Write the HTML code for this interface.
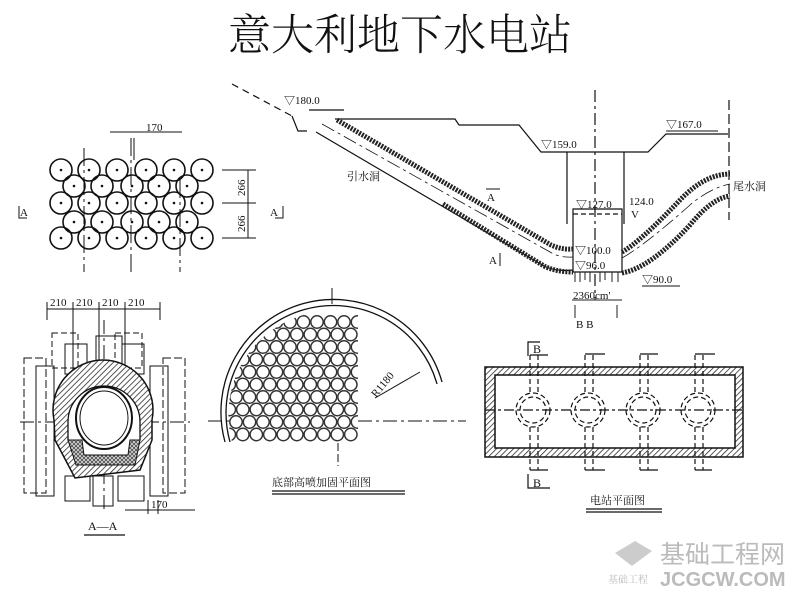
<!DOCTYPE html>
<html><head><meta charset="utf-8"><style>
html,body{margin:0;padding:0;background:#fff}
svg{display:block}
text{font-family:"Liberation Serif","Noto Serif CJK SC",serif;fill:#111}
.c{font-family:"Liberation Serif","Noto Serif CJK SC",serif}
</style></head><body>
<svg width="800" height="600" viewBox="0 0 800 600" xmlns="http://www.w3.org/2000/svg">
<defs>
<pattern id="hatch" width="4" height="4" patternUnits="userSpaceOnUse" patternTransform="rotate(45)">
<rect width="4" height="4" fill="#fff"/><line x1="0" y1="0" x2="0" y2="4" stroke="#222" stroke-width="1.5"/></pattern>
<pattern id="xhatch" width="4" height="4" patternUnits="userSpaceOnUse">
<rect width="4" height="4" fill="#555"/><path d="M0 0L4 4M4 0L0 4" stroke="#fff" stroke-width="0.6"/></pattern>
</defs>
<text x="400" y="50" font-size="43" text-anchor="middle" class="c" style="font-weight:300">意大利地下水电站</text>

<!-- top-left circle grid -->
<g fill="none" stroke="#111" stroke-width="1.6">
<g id="r1"><circle cx="61" cy="170" r="11"/><circle cx="89" cy="170" r="11"/><circle cx="117" cy="170" r="11"/><circle cx="146" cy="170" r="11"/><circle cx="174" cy="170" r="11"/><circle cx="202" cy="170" r="11"/></g>
<g id="r2"><circle cx="74" cy="186" r="11"/><circle cx="102" cy="186" r="11"/><circle cx="132" cy="186" r="11"/><circle cx="159" cy="186" r="11"/><circle cx="187" cy="186" r="11"/></g>
<use href="#r1" y="33"/><use href="#r2" y="36"/><use href="#r1" y="68"/>
</g>
<g fill="#111">
<circle cx="61" cy="170" r="1.3"/><circle cx="89" cy="170" r="1.3"/><circle cx="117" cy="170" r="1.3"/><circle cx="146" cy="170" r="1.3"/><circle cx="174" cy="170" r="1.3"/><circle cx="202" cy="170" r="1.3"/>
<circle cx="61" cy="203" r="1.3"/><circle cx="89" cy="203" r="1.3"/><circle cx="117" cy="203" r="1.3"/><circle cx="146" cy="203" r="1.3"/><circle cx="174" cy="203" r="1.3"/><circle cx="202" cy="203" r="1.3"/>
<circle cx="61" cy="238" r="1.3"/><circle cx="89" cy="238" r="1.3"/><circle cx="117" cy="238" r="1.3"/><circle cx="146" cy="238" r="1.3"/><circle cx="174" cy="238" r="1.3"/><circle cx="202" cy="238" r="1.3"/>
<circle cx="74" cy="186" r="1.3"/><circle cx="102" cy="186" r="1.3"/><circle cx="132" cy="186" r="1.3"/><circle cx="159" cy="186" r="1.3"/><circle cx="187" cy="186" r="1.3"/>
<circle cx="74" cy="222" r="1.3"/><circle cx="102" cy="222" r="1.3"/><circle cx="132" cy="222" r="1.3"/><circle cx="159" cy="222" r="1.3"/><circle cx="187" cy="222" r="1.3"/>
</g>
<g stroke="#111" stroke-width="1" fill="none">
<line x1="84" y1="148" x2="84" y2="272" stroke-dasharray="18 4 3 4"/>
<line x1="131" y1="138" x2="131" y2="272" stroke-dasharray="18 4 3 4"/>
<line x1="134" y1="138" x2="134" y2="160"/>
<line x1="180" y1="180" x2="180" y2="272" stroke-dasharray="18 4 3 4"/>
<line x1="110" y1="132" x2="182" y2="132"/>
<line x1="222" y1="170" x2="256" y2="170"/><line x1="222" y1="203" x2="256" y2="203"/><line x1="222" y1="238" x2="256" y2="238"/>
<line x1="248" y1="170" x2="248" y2="238"/>
<path d="M19 206v12h8M283 206v12h-8"/>
</g>
<text x="146" y="131" font-size="11">170</text>
<text x="0" y="0" font-size="11" transform="translate(245,196) rotate(-90)">266</text>
<text x="0" y="0" font-size="11" transform="translate(245,232) rotate(-90)">266</text>
<text x="20" y="216" font-size="11">A</text><text x="270" y="216" font-size="11">A</text>

<!-- main profile -->
<g stroke="#111" fill="none" stroke-width="1.2">
<path d="M232 84L292 116" stroke-dasharray="7 5"/>
<path d="M292 116L298 131L307 131"/>
<line x1="309" y1="110" x2="344" y2="110"/>
<path d="M335 119L455 119L459 125L519 125L541 152L648 152L666 134L728 134"/>
<line x1="729" y1="100" x2="729" y2="220" stroke-dasharray="10 4"/>
<line x1="595" y1="90" x2="595" y2="300" stroke-dasharray="12 4 3 4"/>
<path d="M567 152V224M624 152V224"/>
<path d="M573 209V272H622V209Z"/>
<line x1="573" y1="214" x2="622" y2="214" stroke-dasharray="5 3"/>
<path d="M316 132L544 266Q556 272 573 270" />
<path d="M322 124L550 252Q560 258 573 257" stroke-dasharray="14 4 3 4" stroke-width="0.8"/>
<path d="M622 258Q645 245 690 205Q710 188 730 184" stroke-dasharray="14 4 3 4" stroke-width="0.8"/>
</g>
<g stroke="#222" fill="none" stroke-width="5" stroke-dasharray="2 1.2">
<path d="M337 120L551 245Q562 250 573 249"/>
<path d="M443 204L544 266Q556 272 573 272"/>
<path d="M622 252Q640 242 680 200Q705 174 730 174"/>
<path d="M622 273Q650 268 690 225Q712 198 730 196"/>
</g>
<g stroke="#222" stroke-width="1" fill="none">
<path d="M575 272v10M580 272v10M585 272v8M590 272v10M600 272v10M605 272v8M612 272v10M618 272v10"/>
<line x1="572" y1="300" x2="622" y2="300"/>
<path d="M575 305V318M617 305V318"/>
</g>
<text x="284" y="104" font-size="11">▽180.0</text>
<text x="541" y="148" font-size="11">▽159.0</text>
<text x="666" y="128" font-size="11">▽167.0</text>
<line x1="666" y1="131" x2="718" y2="131" stroke="#111"/>
<text x="576" y="208" font-size="11">▽127.0</text>
<text x="629" y="205" font-size="11">124.0</text><text x="631" y="218" font-size="11">V</text>
<text x="575" y="254" font-size="11">▽100.0</text>
<text x="575" y="269" font-size="11">▽96.0</text>
<text x="642" y="283" font-size="11">▽90.0</text>
<line x1="642" y1="286" x2="680" y2="286" stroke="#111"/>
<text x="573" y="299" font-size="11">2360cm'</text>
<text x="576" y="328" font-size="11">B  B</text>
<text x="347" y="180" font-size="11">引水洞</text>
<text x="733" y="190" font-size="11">尾水洞</text>
<text x="487" y="201" font-size="11">A</text><line x1="486" y1="189" x2="500" y2="189" stroke="#111"/>
<text x="489" y="264" font-size="11">A</text><line x1="500" y1="253" x2="500" y2="266" stroke="#111"/>

<!-- A-A section -->
<g stroke="#111" fill="none" stroke-width="1">
<path d="M47 309H160" /><path d="M47 302V320M73 302V420M99 302V460M125 302V420M160 302V320"/>
<rect x="52" y="333" width="26" height="35" stroke-dasharray="6 3"/><rect x="65" y="344" width="22" height="30"/>
<rect x="96" y="336" width="26" height="35"/><rect x="115" y="333" width="27" height="35" stroke-dasharray="6 3"/><rect x="122" y="344" width="22" height="30"/>
<rect x="24" y="358" width="22" height="135" stroke-dasharray="8 3"/><rect x="36" y="366" width="18" height="130"/>
<rect x="163" y="358" width="22" height="135" stroke-dasharray="8 3"/><rect x="150" y="366" width="18" height="130"/>
<rect x="65" y="476" width="25" height="25"/><rect x="93" y="476" width="20" height="30"/><rect x="118" y="476" width="26" height="25"/>
<line x1="20" y1="422" x2="190" y2="422" stroke-dasharray="14 4 3 4"/>
<line x1="104" y1="320" x2="104" y2="512" stroke-dasharray="14 4 3 4"/>
<line x1="125" y1="510" x2="195" y2="510"/><path d="M148 500V514M158 500V514"/>
</g>
<path d="M54 420A50 50 0 1 1 152 420L152 440L140 470L75 478L55 440Z" fill="url(#hatch)" stroke="#111" stroke-width="1.5"/>
<path d="M68 422A36 36 0 1 1 140 422L140 440L128 455L80 458L68 440Z" fill="#fff" stroke="#111" stroke-width="1.3"/>
<path d="M68 440L82 440L84 455L128 455L130 440L140 440L135 465L76 465Z" fill="url(#xhatch)" stroke="#111"/>
<ellipse cx="104" cy="418" rx="28" ry="31" fill="#fff" stroke="#111" stroke-width="2"/>
<ellipse cx="104" cy="418" rx="24" ry="27" fill="none" stroke="#111" stroke-width="1"/>
<text x="50" y="306" font-size="11">210</text><text x="76" y="306" font-size="11">210</text><text x="102" y="306" font-size="11">210</text><text x="128" y="306" font-size="11">210</text>
<text x="151" y="508" font-size="11">170</text>
<text x="88" y="530" font-size="12">A—A</text><line x1="84" y1="535" x2="125" y2="535" stroke="#111" stroke-width="1.2"/>

<!-- middle semicircle -->
<g stroke="#111" fill="none">
<path d="M230 442A106 106 0 0 1 437 384" stroke-width="1.3"/>
<path d="M225 442A111 111 0 0 1 442 382" stroke-width="1.3"/>
<line x1="332" y1="288" x2="332" y2="304" stroke-width="1"/>
<line x1="208" y1="421" x2="466" y2="421" stroke-dasharray="14 4 3 4"/>
<line x1="338" y1="443" x2="338" y2="466" stroke-dasharray="8 3"/>
<line x1="375" y1="398" x2="420" y2="372"/>
</g>
<clipPath id="sc"><path d="M232 442A104 104 0 0 1 358 314L358 443Z"/></clipPath>
<g clip-path="url(#sc)" fill="#fff" stroke="#333" stroke-width="1.5">
<g id="row">
<circle cx="236" cy="322" r="6.2"/><circle cx="249.5" cy="322" r="6.2"/><circle cx="263" cy="322" r="6.2"/><circle cx="276.5" cy="322" r="6.2"/><circle cx="290" cy="322" r="6.2"/><circle cx="303.5" cy="322" r="6.2"/><circle cx="317" cy="322" r="6.2"/><circle cx="330.5" cy="322" r="6.2"/><circle cx="344" cy="322" r="6.2"/><circle cx="357.5" cy="322" r="6.2"/>
</g>
<use href="#row" x="-6.7" y="12.5"/><use href="#row" y="25"/><use href="#row" x="-6.7" y="37.5"/><use href="#row" y="50"/><use href="#row" x="-6.7" y="62.5"/><use href="#row" y="75"/><use href="#row" x="-6.7" y="87.5"/><use href="#row" y="100"/><use href="#row" x="-6.7" y="112.5"/>
</g>
<text x="0" y="0" font-size="11" transform="translate(376,398) rotate(-50)">R1180</text>
<text x="272" y="486" font-size="11">底部高喷加固平面图</text>
<line x1="272" y1="491" x2="405" y2="491" stroke="#111" stroke-width="1.2"/><line x1="272" y1="494" x2="405" y2="494" stroke="#111" stroke-width="1.2"/>

<!-- power station plan -->
<path d="M485 367H743V457H485Z M495 375V448H735V375Z" fill="url(#hatch)" fill-rule="evenodd" stroke="#111" stroke-width="1.5"/>
<g fill="none" stroke="#111" stroke-width="1.2">
<line x1="485" y1="410" x2="743" y2="410" stroke-dasharray="10 3 3 3"/>
<g stroke-dasharray="5 3">
<circle cx="533" cy="410" r="17"/><circle cx="588" cy="410" r="17"/><circle cx="643" cy="410" r="17"/><circle cx="698" cy="410" r="17"/>
<circle cx="533" cy="410" r="13"/><circle cx="588" cy="410" r="13"/><circle cx="643" cy="410" r="13"/><circle cx="698" cy="410" r="13"/>
</g>
<path d="M530 355V393M538 355V393M585 355V393M593 355V393M640 355V393M648 355V393M695 355V393M703 355V393" stroke-dasharray="5 3"/>
<path d="M530 427V470M538 427V470M585 427V470M593 427V470M640 427V470M648 427V470M695 427V470M703 427V470" stroke-dasharray="5 3"/>
<path d="M530 355H548M585 354H605M640 354H658M695 354H715M530 470H548M585 470H605M640 470H658M695 470H712"/>
<path d="M528 356V342H540M528 474V488H550"/>
</g>
<text x="533" y="353" font-size="12">B</text><text x="533" y="487" font-size="12">B</text>
<text x="590" y="504" font-size="11">电站平面图</text>
<line x1="586" y1="509" x2="662" y2="509" stroke="#111" stroke-width="1.2"/><line x1="586" y1="512" x2="662" y2="512" stroke="#111" stroke-width="1.2"/>

<!-- watermark -->
<path d="M615 553L635 541L652 551L632 566Z" fill="#ccc"/>
<text x="660" y="563" font-size="25" style="fill:#bbb;font-family:'Liberation Sans','Noto Sans CJK SC',sans-serif">基础工程网</text>
<text x="608" y="583" font-size="10" style="fill:#bbb">基础工程</text>
<text x="660" y="586" font-size="20" style="fill:#bbb;font-family:'Liberation Sans',sans-serif;font-weight:bold">JCGCW.COM</text>
</svg>
</body></html>
